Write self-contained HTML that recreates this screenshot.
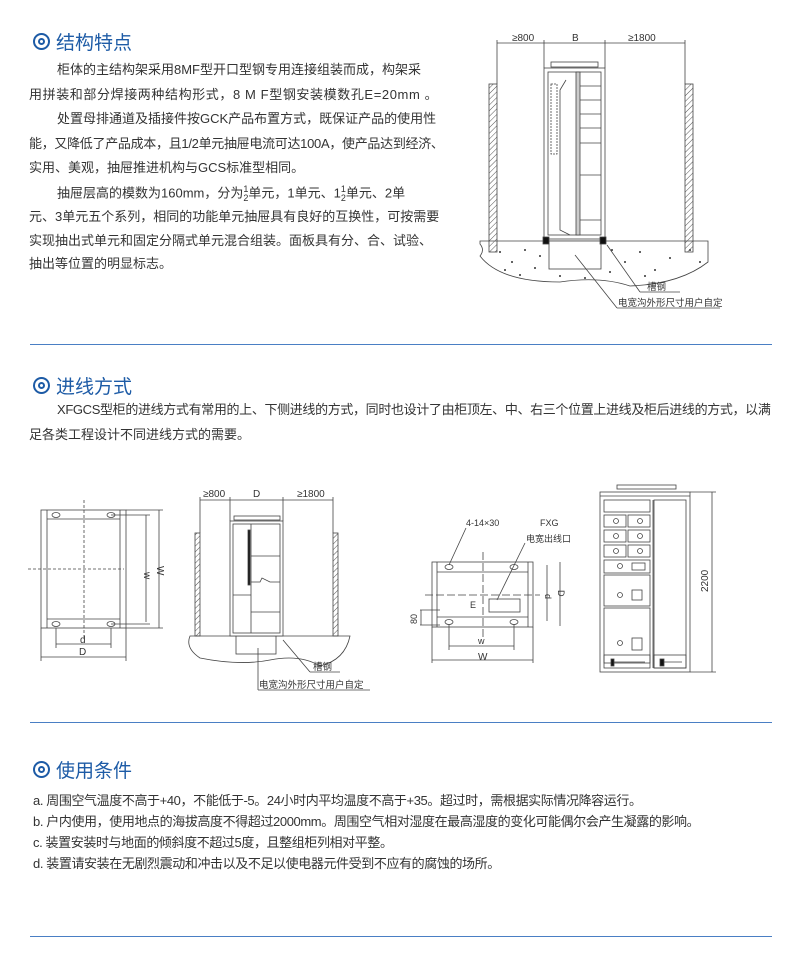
<!DOCTYPE html>
<html><head><meta charset="utf-8">
<style>
*{margin:0;padding:0;box-sizing:border-box}
body{width:800px;height:956px;background:#fff;position:relative;overflow:hidden;font-family:"Liberation Sans","Noto Sans CJK SC",sans-serif;color:#333}
.h{position:absolute;left:33px;font-size:19px;color:#1d5ba6;display:flex;align-items:center;white-space:nowrap}
.ic{width:17px;height:17px;border:2px solid #1d5ba6;border-radius:50%;margin-right:6px;position:relative}
.ic:after{content:"";position:absolute;left:3px;top:3px;width:7px;height:7px;border:2px solid #1d5ba6;border-radius:50%;box-sizing:border-box}
.t{position:absolute;font-size:13px;white-space:nowrap;line-height:16px}
.sep{position:absolute;left:30px;width:742px;height:1px;background:#4a7fc4}
svg{position:absolute;left:0;top:0}
svg text{font-family:"Liberation Sans","Noto Sans CJK SC",sans-serif;fill:#333}
</style></head><body>
<div class="h" style="top:28px"><span class="ic"></span>结构特点</div>
<div class="t" style="left:57px;top:62px">柜体的主结构架采用8MF型开口型钢专用连接组装而成，构架采</div>
<div class="t" style="left:29px;top:87px;letter-spacing:0.6px">用拼装和部分焊接两种结构形式，8 M F型钢安装模数孔E=20mm 。</div>
<div class="t" style="left:57px;top:111px">处置母排通道及插接件按GCK产品布置方式，既保证产品的使用性</div>
<div class="t" style="left:29px;top:136px;letter-spacing:-0.3px">能，又降低了产品成本，且1/2单元抽屉电流可达100A，使产品达到经济、</div>
<div class="t" style="left:29px;top:160px">实用、美观，抽屉推进机构与GCS标准型相同。</div>
<div class="t" style="left:57px;top:185px">抽屉层高的模数为160mm，分为<span style="display:inline-block;font-size:9px;line-height:9px;vertical-align:middle;text-align:center">1<br>2</span>单元，1单元、1<span style="display:inline-block;font-size:9px;line-height:9px;vertical-align:middle;text-align:center">1<br>2</span>单元、2单</div>
<div class="t" style="left:29px;top:209px">元、3单元五个系列，相同的功能单元抽屉具有良好的互换性，可按需要</div>
<div class="t" style="left:29px;top:233px">实现抽出式单元和固定分隔式单元混合组装。面板具有分、合、试验、</div>
<div class="t" style="left:29px;top:256px">抽出等位置的明显标志。</div>
<div class="sep" style="top:344px"></div>
<div class="h" style="top:372px"><span class="ic"></span>进线方式</div>
<div class="t" style="left:57px;top:402px;letter-spacing:-0.35px">XFGCS型柜的进线方式有常用的上、下侧进线的方式，同时也设计了由柜顶左、中、右三个位置上进线及柜后进线的方式，以满</div>
<div class="t" style="left:29px;top:427px">足各类工程设计不同进线方式的需要。</div>
<div class="sep" style="top:722px"></div>
<div class="h" style="top:756px"><span class="ic"></span>使用条件</div>
<div class="t" style="left:33px;top:793px;letter-spacing:-0.4px">a. 周围空气温度不高于+40，不能低于-5。24小时内平均温度不高于+35。超过时，需根据实际情况降容运行。</div>
<div class="t" style="left:33px;top:814px;letter-spacing:-0.4px">b. 户内使用，使用地点的海拔高度不得超过2000mm。周围空气相对湿度在最高湿度的变化可能偶尔会产生凝露的影响。</div>
<div class="t" style="left:33px;top:835px;letter-spacing:-0.4px">c. 装置安装时与地面的倾斜度不超过5度，且整组柜列相对平整。</div>
<div class="t" style="left:33px;top:856px;letter-spacing:-0.4px">d. 装置请安装在无剧烈震动和冲击以及不足以使电器元件受到不应有的腐蚀的场所。</div>
<div class="sep" style="top:936px"></div>

<svg width="800" height="956" viewBox="0 0 800 956" fill="none" stroke="#444" stroke-width="0.8">
<defs><pattern id="hat" width="4" height="4" patternUnits="userSpaceOnUse" patternTransform="rotate(45)"><line x1="0" y1="0" x2="0" y2="4" stroke="#555" stroke-width="1"/></pattern></defs>
<g>
<line x1="497" y1="40" x2="497" y2="84"/><line x1="544" y1="40" x2="544" y2="68"/><line x1="605" y1="40" x2="605" y2="68"/><line x1="685" y1="40" x2="685" y2="84"/>
<line x1="497" y1="43" x2="685" y2="43"/>
<text x="512" y="41" font-size="10" stroke="none">≥800</text><text x="572" y="41" font-size="10" stroke="none">B</text><text x="628" y="41" font-size="10" stroke="none">≥1800</text>
<path d="M480 244 Q485 250 480 256 Q500 282 560 282 Q600 276 630 286 Q680 284 708 262 L708 241 L480 241 Z" fill="#fff"/>
<rect x="549" y="241" width="52" height="28" fill="#fff"/>
<g fill="#333" stroke="none"><circle cx="500" cy="252" r="1"/><circle cx="512" cy="262" r="1"/><circle cx="525" cy="250" r="1"/><circle cx="535" cy="268" r="1"/><circle cx="520" cy="275" r="1"/><circle cx="540" cy="256" r="1"/><circle cx="560" cy="276" r="1"/><circle cx="585" cy="278" r="1"/><circle cx="612" cy="250" r="1"/><circle cx="625" cy="262" r="1"/><circle cx="640" cy="252" r="1"/><circle cx="655" cy="270" r="1"/><circle cx="670" cy="258" r="1"/><circle cx="690" cy="250" r="1"/><circle cx="700" cy="262" r="1"/><circle cx="645" cy="276" r="1"/><circle cx="610" cy="272" r="1"/><circle cx="505" cy="270" r="1"/></g>
<rect x="489" y="84" width="8" height="168" fill="url(#hat)"/><rect x="685" y="84" width="8" height="168" fill="url(#hat)"/>
<rect x="551" y="62" width="47" height="5"/>
<rect x="544" y="68" width="61" height="171" fill="#fff"/>
<rect x="548" y="72" width="53" height="163"/>
<rect x="576" y="72" width="4" height="163" fill="#ccc"/>
<g><line x1="580" y1="86" x2="601" y2="86"/><line x1="580" y1="100" x2="601" y2="100"/><line x1="580" y1="114" x2="601" y2="114"/><line x1="580" y1="128" x2="601" y2="128"/><line x1="580" y1="143" x2="601" y2="143"/><line x1="580" y1="175" x2="601" y2="175"/><line x1="580" y1="220" x2="601" y2="220"/></g>
<rect x="551" y="84" width="6" height="70" stroke-dasharray="2 1"/>
<path d="M566 80 L560 90 L560 230 L570 235"/>
<rect x="543" y="237" width="6" height="7" fill="#111"/><rect x="600" y="237" width="6" height="7" fill="#111"/>
<line x1="575" y1="255" x2="617" y2="308"/><line x1="607" y1="245" x2="640" y2="292"/>
<line x1="640" y1="292" x2="680" y2="292"/><line x1="617" y1="308" x2="720" y2="308"/>
<text x="647" y="290" font-size="9.5" stroke="none">槽钢</text>
<text x="618" y="306" font-size="9.5" stroke="none">电宽沟外形尺寸用户自定</text>
</g>
<g>
<rect x="41" y="510" width="85" height="118"/>
<line x1="47" y1="510" x2="47" y2="628"/><line x1="120" y1="510" x2="120" y2="628"/>
<line x1="47" y1="519" x2="120" y2="519"/><line x1="47" y1="619" x2="120" y2="619"/>
<ellipse cx="56" cy="515" rx="4" ry="2.5"/><ellipse cx="111" cy="515" rx="4" ry="2.5"/><ellipse cx="56" cy="624" rx="4" ry="2.5"/><ellipse cx="111" cy="624" rx="4" ry="2.5"/>
<line x1="84" y1="500" x2="84" y2="640" stroke-dasharray="3 2"/><line x1="28" y1="569" x2="124" y2="569" stroke-dasharray="3 2"/>
<line x1="111" y1="515" x2="150" y2="515"/><line x1="111" y1="624" x2="150" y2="624"/>
<line x1="146" y1="515" x2="146" y2="622"/><line x1="159" y1="510" x2="159" y2="628"/>
<line x1="126" y1="510" x2="163" y2="510"/><line x1="126" y1="628" x2="163" y2="628"/>
<text x="0" y="0" font-size="10" stroke="none" transform="translate(144,572) rotate(90)">w</text>
<text x="0" y="0" font-size="10" stroke="none" transform="translate(157,566) rotate(90)">W</text>
<line x1="56" y1="628" x2="56" y2="648"/><line x1="111" y1="628" x2="111" y2="648"/>
<line x1="56" y1="644" x2="111" y2="644"/><line x1="41" y1="628" x2="41" y2="661"/><line x1="126" y1="628" x2="126" y2="661"/>
<line x1="41" y1="657" x2="126" y2="657"/>
<text x="80" y="643" font-size="10" stroke="none">d</text><text x="79" y="655" font-size="10" stroke="none">D</text>
</g>
<g>
<line x1="200" y1="497" x2="200" y2="533"/><line x1="230" y1="497" x2="230" y2="521"/><line x1="283" y1="497" x2="283" y2="521"/><line x1="333" y1="497" x2="333" y2="533"/>
<line x1="200" y1="500" x2="333" y2="500"/>
<text x="203" y="497" font-size="10" stroke="none">≥800</text><text x="253" y="497" font-size="10" stroke="none">D</text><text x="297" y="497" font-size="10" stroke="none">≥1800</text>
<path d="M190 636 Q185 648 200 658 Q240 666 270 660 Q300 654 320 666 Q345 660 350 636 Z" fill="#fff"/>
<rect x="236" y="636" width="40" height="18" fill="#fff"/>
<rect x="195" y="533" width="5" height="103" fill="url(#hat)"/><rect x="333" y="533" width="5" height="103" fill="url(#hat)"/>
<rect x="234" y="516" width="46" height="4"/>
<rect x="230" y="521" width="53" height="115" fill="#fff"/>
<rect x="233" y="524" width="47" height="109"/>
<line x1="251" y1="524" x2="251" y2="633"/><line x1="251" y1="556" x2="280" y2="556"/><line x1="251" y1="612" x2="280" y2="612"/>
<line x1="233" y1="595" x2="251" y2="595"/>
<rect x="248" y="530" width="2" height="55" fill="#111"/>
<path d="M251 582 L260 582 L262 578 L270 582 L280 582"/>
<line x1="258" y1="648" x2="258" y2="690"/><line x1="283" y1="640" x2="310" y2="672"/>
<line x1="310" y1="672" x2="340" y2="672"/><line x1="258" y1="690" x2="370" y2="690"/>
<text x="313" y="670" font-size="9.5" stroke="none">槽钢</text>
<text x="259" y="688" font-size="9.5" stroke="none">电宽沟外形尺寸用户自定</text>
</g>
<g>
<rect x="432" y="562" width="101" height="65"/>
<line x1="437" y1="562" x2="437" y2="627"/><line x1="528" y1="562" x2="528" y2="627"/>
<line x1="437" y1="572" x2="528" y2="572"/><line x1="437" y1="617" x2="528" y2="617"/>
<ellipse cx="449" cy="567" rx="4" ry="2.5"/><ellipse cx="514" cy="567" rx="4" ry="2.5"/><ellipse cx="449" cy="622" rx="4" ry="2.5"/><ellipse cx="514" cy="622" rx="4" ry="2.5"/>
<line x1="483" y1="552" x2="483" y2="640" stroke-dasharray="8 3"/><line x1="425" y1="595" x2="540" y2="595" stroke-dasharray="8 3"/>
<rect x="489" y="599" width="31" height="13"/>
<text x="470" y="608" font-size="9" stroke="none">E</text>
<line x1="449" y1="565" x2="466" y2="528"/><line x1="497" y1="600" x2="525" y2="543"/>
<text x="466" y="526" font-size="9" stroke="none">4-14×30</text>
<text x="540" y="526" font-size="9" stroke="none">FXG</text>
<text x="526" y="542" font-size="9" stroke="none">电宽出线口</text>
<line x1="547" y1="565" x2="547" y2="621"/><line x1="560" y1="562" x2="560" y2="626"/>
<text x="0" y="0" font-size="9" stroke="none" transform="translate(545,594) rotate(90)">d</text>
<text x="0" y="0" font-size="9" stroke="none" transform="translate(558,590) rotate(90)">D</text>
<line x1="420" y1="610" x2="440" y2="610"/><line x1="420" y1="625" x2="440" y2="625"/><line x1="421" y1="610" x2="421" y2="625"/>
<text x="0" y="0" font-size="9" stroke="none" transform="translate(417,624) rotate(-90)">80</text>
<line x1="449" y1="624" x2="449" y2="650"/><line x1="514" y1="624" x2="514" y2="650"/><line x1="449" y1="646" x2="514" y2="646"/>
<line x1="432" y1="627" x2="432" y2="663"/><line x1="533" y1="627" x2="533" y2="663"/><line x1="432" y1="660" x2="533" y2="660"/>
<text x="478" y="644" font-size="9" stroke="none">w</text><text x="478" y="660" font-size="10" stroke="none">W</text>
</g>
<g>
<rect x="617" y="485" width="59" height="4"/>
<rect x="600" y="492" width="90" height="180"/>
<line x1="600" y1="496" x2="690" y2="496"/>
<line x1="653" y1="500" x2="653" y2="668"/><rect x="654" y="500" width="32" height="168"/>
<rect x="604" y="500" width="46" height="12"/>
<rect x="604" y="515" width="22" height="12"/><rect x="628" y="515" width="22" height="12"/>
<rect x="604" y="530" width="22" height="12"/><rect x="628" y="530" width="22" height="12"/>
<rect x="604" y="545" width="22" height="12"/><rect x="628" y="545" width="22" height="12"/>
<rect x="604" y="560" width="46" height="13"/>
<rect x="604" y="575" width="46" height="31"/>
<rect x="604" y="608" width="46" height="55"/>
<rect x="604" y="655" width="46" height="13"/><rect x="654" y="655" width="32" height="13"/>
<rect x="632" y="563" width="13" height="7"/><rect x="632" y="590" width="10" height="10"/><rect x="632" y="638" width="10" height="12"/>
<circle cx="620" cy="566" r="2.5"/><circle cx="620" cy="595" r="2.5"/><circle cx="620" cy="643" r="2.5"/>
<g fill="none"><circle cx="616" cy="521" r="2.5"/><circle cx="640" cy="521" r="2.5"/><circle cx="616" cy="536" r="2.5"/><circle cx="640" cy="536" r="2.5"/><circle cx="616" cy="551" r="2.5"/><circle cx="640" cy="551" r="2.5"/></g>
<rect x="611" y="659" width="3" height="7" fill="#111"/><rect x="660" y="659" width="4" height="7" fill="#111"/>
<line x1="614" y1="662" x2="645" y2="662"/><line x1="664" y1="662" x2="682" y2="662"/>
<line x1="690" y1="492" x2="716" y2="492"/><line x1="690" y1="672" x2="716" y2="672"/><line x1="712" y1="492" x2="712" y2="672"/>
<text x="0" y="0" font-size="10" stroke="none" transform="translate(708,592) rotate(-90)">2200</text>
</g>
</svg>
</body></html>
